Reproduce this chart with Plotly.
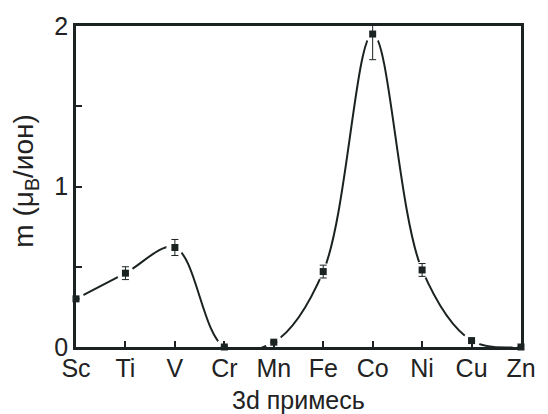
import plotly.graph_objects as go

elements = ["Sc", "Ti", "V", "Cr", "Mn", "Fe", "Co", "Ni", "Cu", "Zn"]
moment = [0.30, 0.46, 0.62, 0.0, 0.03, 0.47, 1.95, 0.48, 0.04, 0.0]
err_plus = [0.0, 0.04, 0.05, 0.0, 0.0, 0.04, 0.08, 0.04, 0.0, 0.0]
err_minus = [0.0, 0.04, 0.05, 0.0, 0.0, 0.04, 0.16, 0.04, 0.0, 0.0]
ytick_vals = [0, 0.5, 1, 1.5, 2]
ytick_text = ["0", "", "1", "", "2"]

xpos = list(range(len(elements)))
ink = "#1b2222"
font = "Liberation Sans, Arial, Helvetica, sans-serif"

fig = go.Figure()
# smooth guide curve
fig.add_trace(go.Scatter(x=xpos, y=moment, mode="lines",
                         line=dict(shape="spline", smoothing=1.0, color=ink, width=2),
                         hoverinfo="skip", showlegend=False))
# white halo around points
fig.add_trace(go.Scatter(x=xpos, y=moment, mode="markers",
                         marker=dict(symbol="circle", size=17, color="white",
                                     line=dict(width=0)),
                         hoverinfo="skip", showlegend=False))
# data points with error bars
fig.add_trace(go.Scatter(x=xpos, y=moment, mode="markers",
                         marker=dict(symbol="square", size=7, color=ink),
                         error_y=dict(type="data", symmetric=False, array=err_plus,
                                      arrayminus=err_minus, color=ink, thickness=1, width=3.5),
                         cliponaxis=False, showlegend=False))

axis_common = dict(showline=True, linecolor=ink, linewidth=2.5, mirror=True,
                   ticks="inside", ticklen=6, tickwidth=2, tickcolor=ink,
                   showgrid=False, zeroline=False,
                   tickfont=dict(family=font, size=25, color="#222"))

fig.update_xaxes(range=[0, 9], tickvals=xpos, ticktext=elements, ticklabelstandoff=-3,
                 **axis_common)
fig.update_yaxes(range=[0, 2], tickvals=ytick_vals, ticktext=ytick_text, **axis_common)

fig.update_layout(
    width=548, height=414,
    margin=dict(l=76, r=24, t=19, b=67),
    paper_bgcolor="white", plot_bgcolor="white",
    annotations=[
        dict(text="3d примесь", xref="paper", yref="paper", x=0.5, y=0,
             xanchor="center", yanchor="top", yshift=-37, showarrow=False,
             font=dict(family=font, size=25, color="#222")),
        dict(text="m (μ<sub>B</sub>/ион)", xref="paper", yref="paper", x=0, y=0.515,
             xanchor="center", yanchor="middle", xshift=-50, textangle=-90, showarrow=False,
             font=dict(family=font, size=28, color="#222")),
    ],
)

fig.write_html("out.html")
